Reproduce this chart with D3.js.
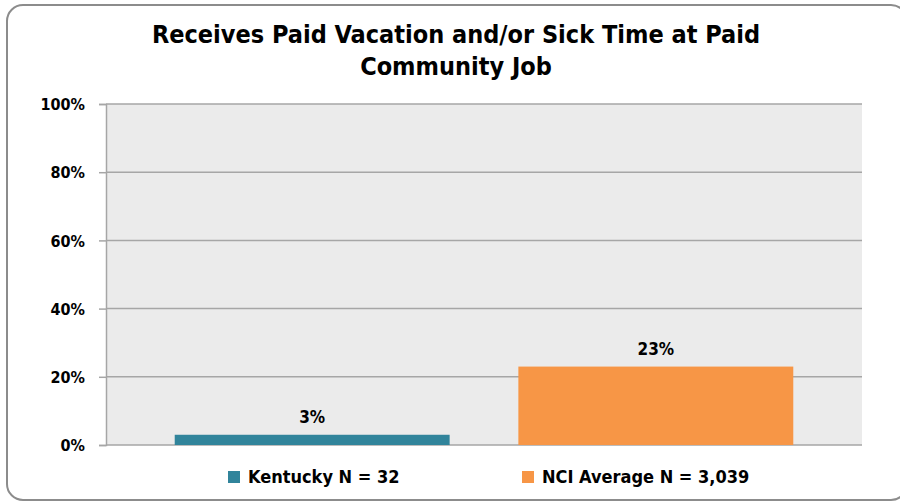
<!DOCTYPE html>
<html>
<head>
<meta charset="utf-8">
<script src="https://cdn.jsdelivr.net/npm/d3@7"></script>
<style>
  body { margin: 0; background: #fff; }
  svg text { font-family: "Liberation Sans Narrow", "DejaVu Sans Condensed", Arial, sans-serif; font-weight: bold; fill: #000; }
</style>
</head>
<body>
<svg width="900" height="502"></svg>
<script>
// chart data
var titleLines = ["Receives Paid Vacation and/or Sick Time at Paid", "Community Job"];
var series = ["Kentucky N = 32", "NCI Average N = 3,039"];
var values = [3, 23];
var colors = ["#31849b", "#f79646"];
var yTicks = [0, 20, 40, 60, 80, 100];

var svg = d3.select("svg"),
    margin = {top: 104, right: 38, bottom: 57, left: 106},
    width = 900 - margin.left - margin.right,
    height = 502 - margin.top - margin.bottom;

// outer frame
svg.append("rect")
    .attr("x", 7).attr("y", 5)
    .attr("width", 900).attr("height", 495)
    .attr("rx", 16)
    .attr("fill", "#fff")
    .attr("stroke", "#8c8c8c")
    .attr("stroke-width", 2);

svg.selectAll(".title")
  .data(titleLines)
  .enter().append("text")
    .attr("class", "title")
    .attr("x", 456)
    .attr("y", function(d, i) { return 43 + i * 32; })
    .attr("text-anchor", "middle")
    .style("font-size", "25px")
    .text(function(d) { return d; });

var g = svg.append("g").attr("transform", "translate(" + margin.left + "," + margin.top + ")");

var x = d3.scaleBand().domain(series).range([0, width]).paddingInner(0.2).paddingOuter(0.2);
var y = d3.scaleLinear().domain([0, 100]).range([height, 0]);

g.append("rect")
    .attr("width", width).attr("height", height)
    .attr("fill", "#ebebeb");

// gridlines
g.selectAll(".grid")
  .data(yTicks)
  .enter().append("line")
    .attr("x1", 0).attr("x2", width)
    .attr("y1", function(d) { return y(d); })
    .attr("y2", function(d) { return y(d); })
    .attr("stroke", "#a6a6a6")
    .attr("stroke-width", 1.5);

var yAxis = g.append("g")
    .call(d3.axisLeft(y).tickValues(yTicks).tickSize(7).tickPadding(14)
      .tickFormat(function(d) { return d + "%"; }));
yAxis.select(".domain").attr("stroke", "#a6a6a6").attr("stroke-width", 1.5);
yAxis.selectAll(".tick line").attr("stroke", "#a6a6a6").attr("stroke-width", 1.5);
yAxis.selectAll(".tick text").style("font-size", "16px").attr("dy", "0.35em");

g.selectAll(".bar")
  .data(values)
  .enter().append("rect")
    .attr("class", "bar")
    .attr("x", function(d, i) { return x(series[i]); })
    .attr("y", function(d) { return y(d); })
    .attr("width", x.bandwidth())
    .attr("height", function(d) { return height - y(d); })
    .attr("fill", function(d, i) { return colors[i]; });

g.selectAll(".lbl")
  .data(values)
  .enter().append("text")
    .attr("class", "lbl")
    .attr("x", function(d, i) { return x(series[i]) + x.bandwidth() / 2; })
    .attr("y", function(d) { return y(d) - 12; })
    .attr("text-anchor", "middle")
    .style("font-size", "17px")
    .text(function(d) { return d + "%"; });

// legend
var legendX = [228, 522];
var legend = svg.selectAll(".legend")
  .data(series)
  .enter().append("g")
    .attr("class", "legend")
    .attr("transform", function(d, i) { return "translate(" + legendX[i] + ",471)"; });

legend.append("rect")
    .attr("width", 12).attr("height", 12)
    .attr("fill", function(d, i) { return colors[i]; });

legend.append("text")
    .attr("x", 20)
    .attr("y", 12)
    .style("font-size", "18px")
    .text(function(d) { return d; });
</script>
</body>
</html>
